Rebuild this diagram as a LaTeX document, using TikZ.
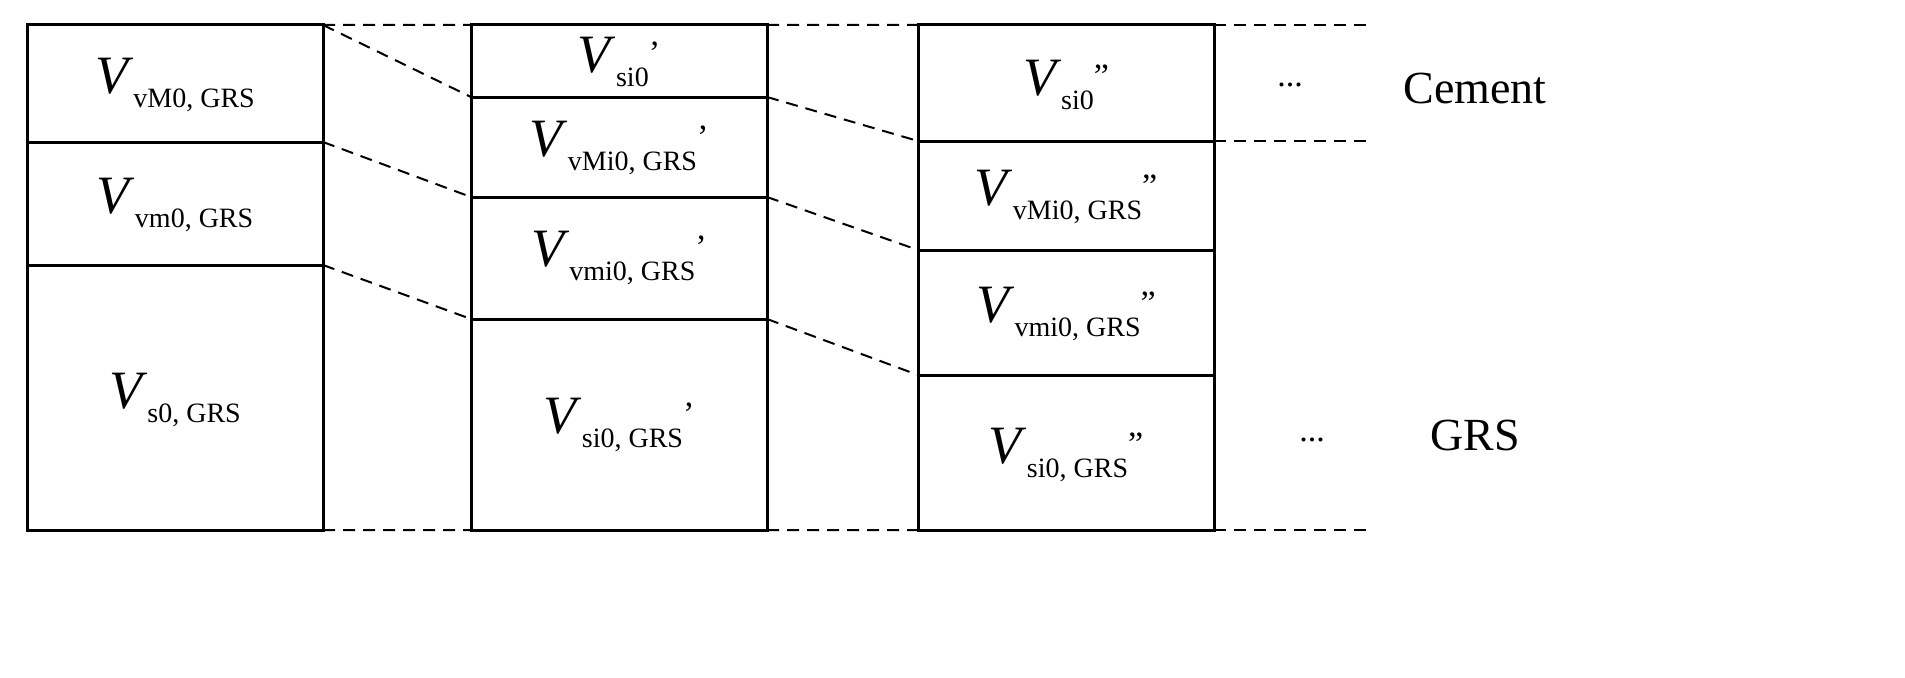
\documentclass[tikz,border=0pt]{standalone}
\usepackage{fontspec}
\setmainfont{Liberation Serif}
\newcommand{\VV}[2]{{\fontsize{54}{54}\selectfont\textit{V}}\raisebox{-14pt}{\fontsize{28}{28}\selectfont #1}\raisebox{8pt}{\fontsize{34}{34}\selectfont #2}}
\newcommand{\pone}{\symbol{39}}
\newcommand{\ptwo}{\symbol{34}}
\begin{document}
\begin{tikzpicture}[x=1pt,y=-1pt,
  box/.style={draw,line width=3pt},
  dsh/.style={line width=2pt,dash pattern=on 12pt off 8pt},
  lab/.style={inner sep=0pt,font=\fontsize{46}{46}\selectfont}]
\useasboundingbox (0,0) rectangle (1905,677);
% columns
\draw[box] (27,25) rectangle (323,530);
\draw[box] (27,142) -- (323,142) (27,265) -- (323,265);
\draw[box] (471,25) rectangle (767,530);
\draw[box] (471,97) -- (767,97) (471,197) -- (767,197) (471,319) -- (767,319);
\draw[box] (918,25) rectangle (1214,530);
\draw[box] (918,141) -- (1214,141) (918,250) -- (1214,250) (918,375) -- (1214,375);
% coordinates
\coordinate (a0) at (323,25); \coordinate (a1) at (323,142); \coordinate (a2) at (323,265); \coordinate (a3) at (323,530);
\coordinate (b0) at (471,25); \coordinate (b1) at (471,97); \coordinate (b2) at (471,197); \coordinate (b3) at (471,319); \coordinate (b4) at (471,530);
\coordinate (c0) at (767,25); \coordinate (c1) at (767,97); \coordinate (c2) at (767,197); \coordinate (c3) at (767,319); \coordinate (c4) at (767,530);
\coordinate (d0) at (918,25); \coordinate (d1) at (918,141); \coordinate (d2) at (918,250); \coordinate (d3) at (918,375); \coordinate (d4) at (918,530);
\coordinate (e0) at (1214,25); \coordinate (e1) at (1214,141); \coordinate (e4) at (1214,530);
\coordinate (f0) at (1372,25); \coordinate (f1) at (1372,141); \coordinate (f4) at (1372,530);
% dashed
\draw[dsh] (a0)--(b0) (a0)--(b1) (a1)--(b2) (a2)--(b3) (a3)--(b4);
\draw[dsh] (c0)--(d0) (c1)--(d1) (c2)--(d2) (c3)--(d3) (c4)--(d4);
\draw[dsh] (e0)--(f0) (e1)--(f1) (e4)--(f4);
% labels
\node[inner sep=0pt] (l1) at (175,85) {\VV{vM0, GRS}{}};
\node[inner sep=0pt] (l2) at (175,205) {\VV{vm0, GRS}{}};
\node[inner sep=0pt] (l3) at (175,400) {\VV{s0, GRS}{}};
\node[inner sep=0pt] (m1) at (619,62) {\VV{si0}{\pone}};
\node[inner sep=0pt] (m2) at (619,148) {\VV{vMi0, GRS}{\pone}};
\node[inner sep=0pt] (m3) at (619,258) {\VV{vmi0, GRS}{\pone}};
\node[inner sep=0pt] (m4) at (619,425) {\VV{si0, GRS}{\pone}};
\node[inner sep=0pt] (r1) at (1066,85) {\VV{si0}{\ptwo}};
\node[inner sep=0pt] (r2) at (1066,197) {\VV{vMi0, GRS}{\ptwo}};
\node[inner sep=0pt] (r3) at (1066,314) {\VV{vmi0, GRS}{\ptwo}};
\node[inner sep=0pt] (r4) at (1066,455) {\VV{si0, GRS}{\ptwo}};
\node[lab] (dt1) at (1290,85) {\fontsize{34}{34}\selectfont ...};
\node[lab] (dt2) at (1312,440) {\fontsize{34}{34}\selectfont ...};
\node[lab] (cem) at (1475,88) {Cement};
\node[lab] (grs) at (1475,435) {GRS};
\end{tikzpicture}
\end{document}
